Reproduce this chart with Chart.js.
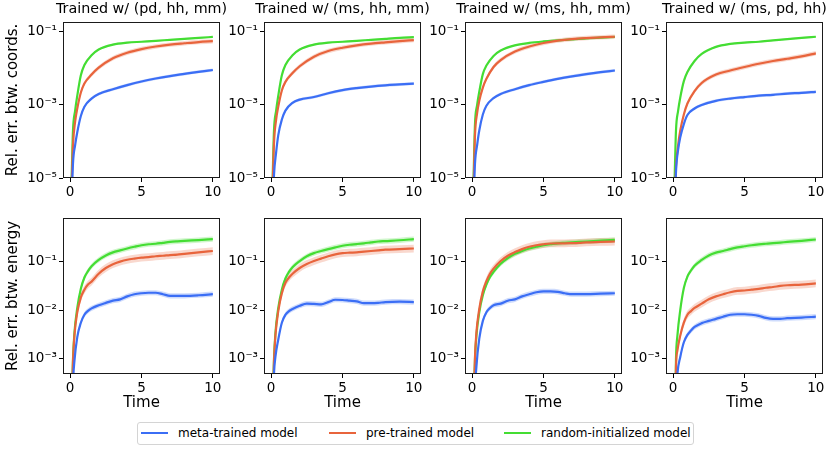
<!DOCTYPE html>
<html>
<head>
<meta charset="utf-8">
<script src="https://cdn.jsdelivr.net/npm/chart.js@4.4.1/dist/chart.umd.min.js"></script>
<style>
  body { margin: 0; width: 831px; height: 452px; overflow: hidden; background: #fff; position: relative; font-family: 'DejaVu Sans', sans-serif; }
  canvas { position: absolute; }
  .legend-box { position: absolute; left: 137px; top: 422px; width: 555px; height: 21px; border: 1px solid #d4d4d4; border-radius: 3px; }
  .legend-line { position: absolute; top: 432px; height: 2px; }
  .legend-text { position: absolute; top: 425px; font-size: 12px; line-height: 16px; color: #000; white-space: nowrap; }
</style>
</head>
<body>
<script>
// time grids
const timesCoords = [0.1, 0.2, 0.35, 0.5, 0.75, 1, 1.5, 2, 3, 4, 5, 6, 7, 8, 9, 10];
const timesEnergy = [0.1, 0.2, 0.3, 0.5, 0.75, 1, 1.25, 1.5, 2, 2.5, 3, 3.5, 4, 4.5, 5, 5.5, 6, 6.5, 7, 7.5, 8, 9, 10];

const panelTitles = ['Trained w/ (pd, hh, mm)', 'Trained w/ (ms, hh, mm)', 'Trained w/ (ms, hh, mm)', 'Trained w/ (ms, pd, hh)'];
const seriesNames = ['meta-trained model', 'pre-trained model', 'random-initialized model'];
const coordsLabel = 'Rel. err. btw. coords.';
const energyLabel = 'Rel. err. btw. energy';
const timeLabel = 'Time';

const timeTicks = [0, 5, 10];
const coordsTicks = [1e-5, 1e-3, 1e-1];
const energyTicks = [1e-3, 1e-2, 1e-1];

// top row: relative error of coordinates
const coordsMeta1 = [2e-6, 2.5e-5, 8e-5, 1.8e-4, 5e-4, 9e-4, 1.5e-3, 2e-3, 2.7e-3, 3.5e-3, 4.4e-3, 5.3e-3, 6.2e-3, 7.1e-3, 8.1e-3, 9.1e-3];
const coordsPre1 = [5e-6, 8e-5, 3.5e-4, 8e-4, 2.2e-3, 3.9e-3, 6.8e-3, 0.0105, 0.019, 0.027, 0.034, 0.04, 0.045, 0.049, 0.053, 0.056];
const coordsRand1 = [8e-6, 2e-4, 7e-4, 1.8e-3, 6.5e-3, 0.0125, 0.023, 0.033, 0.045, 0.051, 0.054, 0.057, 0.061, 0.065, 0.069, 0.073];

const coordsMeta2 = [1e-6, 1.2e-5, 5e-5, 1.5e-4, 4e-4, 7e-4, 1.15e-3, 1.4e-3, 1.65e-3, 2.1e-3, 2.55e-3, 2.9e-3, 3.2e-3, 3.45e-3, 3.65e-3, 3.85e-3];
const coordsPre2 = [5e-6, 9e-5, 4e-4, 9e-4, 2.5e-3, 4.3e-3, 7.5e-3, 0.0115, 0.021, 0.03, 0.037, 0.043, 0.048, 0.052, 0.056, 0.06];
const coordsRand2 = [8e-6, 2e-4, 7e-4, 1.8e-3, 6.5e-3, 0.0125, 0.023, 0.033, 0.045, 0.051, 0.054, 0.057, 0.061, 0.065, 0.069, 0.072];

const coordsMeta3 = [2e-6, 2.5e-5, 8e-5, 2e-4, 5.5e-4, 9.5e-4, 1.55e-3, 2e-3, 2.7e-3, 3.5e-3, 4.3e-3, 5.2e-3, 6.1e-3, 7e-3, 7.9e-3, 8.8e-3];
const coordsPre3 = [5e-6, 1.5e-4, 6e-4, 1.3e-3, 3e-3, 5.2e-3, 0.011, 0.017, 0.029, 0.04, 0.05, 0.058, 0.064, 0.068, 0.071, 0.074];
const coordsRand3 = [1e-5, 3e-4, 1e-3, 2.3e-3, 7e-3, 0.012, 0.022, 0.031, 0.043, 0.05, 0.055, 0.059, 0.063, 0.067, 0.07, 0.073];

const coordsMeta4 = [1e-6, 1.5e-5, 6e-5, 1.3e-4, 3e-4, 5.3e-4, 8e-4, 1e-3, 1.3e-3, 1.5e-3, 1.65e-3, 1.8e-3, 1.9e-3, 2.05e-3, 2.15e-3, 2.3e-3];
const coordsPre4 = [2e-6, 2e-5, 8e-5, 2e-4, 5.5e-4, 1.1e-3, 2.4e-3, 4e-3, 6.8e-3, 8.8e-3, 0.011, 0.0135, 0.016, 0.0185, 0.0215, 0.026];
const coordsRand4 = [8e-6, 2e-4, 7e-4, 1.6e-3, 4.5e-3, 8e-3, 0.016, 0.025, 0.039, 0.047, 0.051, 0.054, 0.059, 0.064, 0.069, 0.074];

// bottom row: relative error of energy
const energyMeta1 = [1e-5, 3e-4, 9e-4, 2.8e-3, 5.5e-3, 8e-3, 9.6e-3, 0.0108, 0.0125, 0.014, 0.0155, 0.0165, 0.019, 0.021, 0.022, 0.0225, 0.0225, 0.021, 0.0195, 0.0195, 0.0195, 0.02, 0.021];
const energyPre1 = [1e-4, 9e-4, 3e-3, 9e-3, 0.018, 0.026, 0.033, 0.038, 0.055, 0.072, 0.086, 0.097, 0.106, 0.112, 0.117, 0.12, 0.125, 0.128, 0.132, 0.135, 0.14, 0.15, 0.16];
const energyRand1 = [1e-4, 1e-3, 3.4e-3, 0.011, 0.027, 0.046, 0.062, 0.078, 0.105, 0.13, 0.15, 0.165, 0.18, 0.195, 0.21, 0.22, 0.225, 0.235, 0.245, 0.252, 0.258, 0.268, 0.28];

const energyMeta2 = [5e-5, 5e-4, 1.1e-3, 2.5e-3, 5.5e-3, 8e-3, 9.5e-3, 0.0105, 0.0122, 0.0135, 0.0133, 0.013, 0.0145, 0.0162, 0.016, 0.0155, 0.015, 0.0138, 0.0138, 0.014, 0.0145, 0.0148, 0.0145];
const energyPre2 = [1e-4, 9e-4, 3e-3, 9.5e-3, 0.022, 0.036, 0.046, 0.055, 0.072, 0.087, 0.1, 0.112, 0.125, 0.137, 0.145, 0.148, 0.15, 0.155, 0.16, 0.165, 0.17, 0.175, 0.18];
const energyRand2 = [1e-4, 1e-3, 3.4e-3, 0.011, 0.026, 0.044, 0.06, 0.075, 0.1, 0.125, 0.145, 0.16, 0.175, 0.19, 0.205, 0.215, 0.222, 0.23, 0.24, 0.25, 0.255, 0.265, 0.28];

const energyMeta3 = [5e-6, 2e-4, 7e-4, 2.6e-3, 6e-3, 9e-3, 0.011, 0.0125, 0.0135, 0.0155, 0.0165, 0.019, 0.021, 0.023, 0.024, 0.024, 0.0235, 0.022, 0.021, 0.021, 0.021, 0.0215, 0.022];
const energyPre3 = [1e-4, 1.1e-3, 3.5e-3, 0.0105, 0.024, 0.039, 0.055, 0.07, 0.1, 0.128, 0.152, 0.175, 0.195, 0.21, 0.22, 0.228, 0.23, 0.23, 0.232, 0.235, 0.24, 0.245, 0.25];
const energyRand3 = [1e-4, 1e-3, 3e-3, 9e-3, 0.02, 0.033, 0.047, 0.06, 0.088, 0.115, 0.14, 0.16, 0.18, 0.195, 0.21, 0.22, 0.23, 0.235, 0.24, 0.245, 0.25, 0.26, 0.27];

const energyMeta4 = [1e-6, 1.5e-4, 5e-4, 1.1e-3, 2.2e-3, 3.1e-3, 3.8e-3, 4.5e-3, 5.4e-3, 6e-3, 6.6e-3, 7.3e-3, 8e-3, 8.2e-3, 8.2e-3, 8e-3, 7.6e-3, 6.9e-3, 6.6e-3, 6.6e-3, 6.8e-3, 7e-3, 7.3e-3];
const energyPre4 = [1e-5, 7e-4, 1.5e-3, 3e-3, 5.5e-3, 8e-3, 9.5e-3, 0.011, 0.0135, 0.0165, 0.019, 0.021, 0.023, 0.0245, 0.025, 0.026, 0.027, 0.0285, 0.0295, 0.031, 0.032, 0.033, 0.035];
const energyRand4 = [1e-5, 1e-3, 3e-3, 0.01, 0.028, 0.048, 0.064, 0.08, 0.105, 0.13, 0.148, 0.16, 0.175, 0.19, 0.2, 0.21, 0.218, 0.225, 0.232, 0.238, 0.245, 0.258, 0.275];

// spread of the shaded band (multiplicative), per series: meta, pre, random
const coordsBand = [1.1, 1.15, 1.05];
const energyBand = [1.13, 1.2, 1.13];

const colors = ['#3b6ef5', '#e8643c', '#44dd33'];
const fills = ['rgba(59,110,245,0.25)', 'rgba(232,100,60,0.25)', 'rgba(68,221,51,0.25)'];

Chart.defaults.font.family = "'DejaVu Sans', sans-serif";
Chart.defaults.color = '#000';

const sup = { '-': '\u207B', '0': '\u2070', '1': '\u00B9', '2': '\u00B2', '3': '\u00B3', '4': '\u2074', '5': '\u2075', '6': '\u2076' };
function powerLabel(v) {
  const e = String(Math.round(Math.log10(v)));
  return '10' + e.split('').map(c => sup[c]).join('');
}

const frame = {
  id: 'frame',
  afterDatasetsDraw(chart) {
    const a = chart.chartArea;
    const ctx = chart.ctx;
    ctx.save();
    ctx.strokeStyle = '#1a1a1a';
    ctx.lineWidth = 1;
    ctx.strokeRect(Math.round(a.left) + 0.5, Math.round(a.top) + 0.5, Math.round(a.right - a.left) - 1, Math.round(a.bottom - a.top) - 1);
    ctx.restore();
  }
};

function buildDatasets(times, series, band) {
  const lines = [];
  const bands = [];
  series.forEach((vals, k) => {
    lines.push({
      label: seriesNames[k],
      data: vals.map((v, i) => ({ x: times[i], y: v })),
      borderColor: colors[k], borderWidth: 2.2, pointRadius: 0, fill: false,
      cubicInterpolationMode: 'monotone'
    });
    bands.push({
      data: vals.map((v, i) => ({ x: times[i], y: v * band[k] })),
      borderWidth: 0, pointRadius: 0, backgroundColor: fills[k], fill: '+1',
      cubicInterpolationMode: 'monotone'
    });
    bands.push({
      data: vals.map((v, i) => ({ x: times[i], y: v / band[k] })),
      borderWidth: 0, pointRadius: 0, fill: false,
      cubicInterpolationMode: 'monotone'
    });
  });
  return lines.concat(bands);
}

const panelLefts = [63, 264, 465, 666];
const panelWidth = 157;
const panelHeight = 156;

function addPanel(row, col, series) {
  const yW = col === 0 ? 63 : 40;
  const top = row === 0;
  const xH = top ? 20 : 40;
  const canvas = document.createElement('canvas');
  const w = yW * 2 + panelWidth;
  const h = 22 + panelHeight + xH;
  canvas.width = w;
  canvas.height = h;
  canvas.style.width = w + 'px';
  canvas.style.height = h + 'px';
  canvas.style.left = (panelLefts[col] - yW) + 'px';
  canvas.style.top = (top ? 0 : 196) + 'px';
  document.body.appendChild(canvas);

  const yTicks = top ? coordsTicks : energyTicks;
  new Chart(canvas, {
    type: 'line',
    data: { datasets: buildDatasets(top ? timesCoords : timesEnergy, series, top ? coordsBand : energyBand) },
    options: {
      responsive: false,
      animation: false,
      events: [],
      layout: { padding: { left: 0, right: 0, top: top ? 0 : 22, bottom: 0 } },
      plugins: {
        legend: { display: false },
        tooltip: { enabled: false },
        title: {
          display: top,
          text: panelTitles[col],
          font: { size: 14.3, weight: 'normal' },
          color: '#000',
          padding: { top: 0.8, bottom: 4 }
        }
      },
      scales: {
        x: {
          type: 'linear', min: -0.5, max: 10.5,
          afterBuildTicks: s => { s.ticks = timeTicks.map(v => ({ value: v })); },
          afterFit: s => { s.height = xH; },
          ticks: { font: { size: 13.5 }, color: '#000', padding: 2, maxRotation: 0, callback: v => String(v) },
          grid: { display: true, drawOnChartArea: false, drawTicks: true, tickLength: 4, color: '#000' },
          border: { display: false },
          title: { display: !top, text: timeLabel, font: { size: 15 }, color: '#000', padding: { top: 0, bottom: 2 } }
        },
        y: {
          type: 'logarithmic',
          min: top ? 1e-5 : 4.94e-4,
          max: top ? 0.188 : 0.755,
          afterBuildTicks: s => { s.ticks = yTicks.map(v => ({ value: v })); },
          afterFit: s => { s.width = yW; },
          ticks: { font: { size: 13.5 }, color: '#000', padding: 2, autoSkip: false, callback: v => powerLabel(v) },
          grid: { display: true, drawOnChartArea: false, drawTicks: true, tickLength: 4, color: '#000' },
          border: { display: false },
          title: { display: col === 0, text: top ? coordsLabel : energyLabel, font: { size: 15 }, color: '#000', padding: { top: 4, bottom: 0 } }
        },
        // empty right-hand box so the panel title centres over the plot
        yRight: {
          type: 'linear', position: 'right', display: true,
          afterFit: s => { s.width = yW; },
          ticks: { display: false },
          grid: { display: false },
          border: { display: false }
        }
      }
    },
    plugins: [frame]
  });
}

addPanel(0, 0, [coordsMeta1, coordsPre1, coordsRand1]);
addPanel(0, 1, [coordsMeta2, coordsPre2, coordsRand2]);
addPanel(0, 2, [coordsMeta3, coordsPre3, coordsRand3]);
addPanel(0, 3, [coordsMeta4, coordsPre4, coordsRand4]);
addPanel(1, 0, [energyMeta1, energyPre1, energyRand1]);
addPanel(1, 1, [energyMeta2, energyPre2, energyRand2]);
addPanel(1, 2, [energyMeta3, energyPre3, energyRand3]);
addPanel(1, 3, [energyMeta4, energyPre4, energyRand4]);

// legend under the grid
const legendBox = document.createElement('div');
legendBox.className = 'legend-box';
document.body.appendChild(legendBox);
const lineLefts = [141, 329, 504];
const textLefts = [178, 366, 541];
seriesNames.forEach((name, k) => {
  const ln = document.createElement('div');
  ln.className = 'legend-line';
  ln.style.left = lineLefts[k] + 'px';
  ln.style.width = '27px';
  ln.style.background = colors[k];
  document.body.appendChild(ln);
  const tx = document.createElement('div');
  tx.className = 'legend-text';
  tx.style.left = textLefts[k] + 'px';
  tx.textContent = name;
  document.body.appendChild(tx);
});
</script>
</body>
</html>
